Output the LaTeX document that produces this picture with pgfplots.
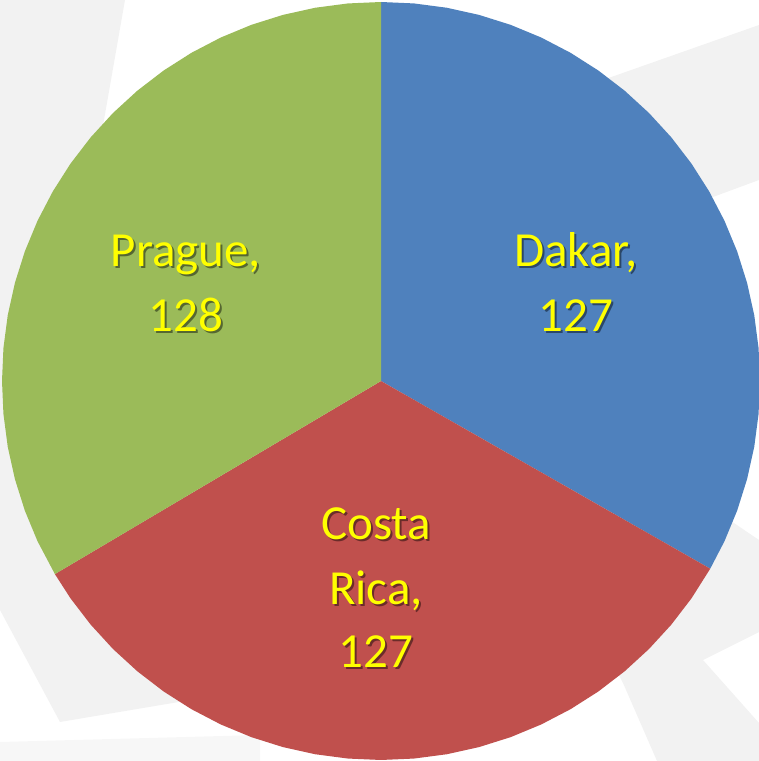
\documentclass[border=0pt]{standalone}
\usepackage{pgfplots}
\pgfplotsset{compat=1.18}
\usepackage{fontspec}
\setmainfont{Carlito}
\definecolor{cblue}{HTML}{4F81BD}
\definecolor{cred}{HTML}{C0504D}
\definecolor{cgreen}{HTML}{9BBB59}
\definecolor{bggrey}{HTML}{F2F2F2}
\definecolor{lblyellow}{HTML}{FFFF00}
% Data: Dakar 127, Costa Rica 127, Prague 128 (total 382)
\newcommand{\pielabel}[4]{%
  \node[anchor=base,inner sep=0pt,font=\fontsize{49}{58}\selectfont] at (axis cs:#1,#2)
   {\rlap{\kern2pt\raisebox{-2pt}{\color{#4!55!black}#3}}\textcolor{lblyellow}{#3}};}
\begin{document}
\begin{tikzpicture}
\begin{axis}[x=1pt,y=1pt,xmin=-381,xmax=378,ymin=-380,ymax=381,
  hide axis,scale only axis,clip=true]
% faint background decoration
\fill[bggrey] (axis cs:-381,381) -- (axis cs:-256,381) -- (axis cs:-291,181) -- (axis cs:-131,-309) -- (axis cs:-321,-341) -- (axis cs:-381,-229) -- cycle;
\fill[bggrey!60!white] (axis cs:-381,-361) -- (axis cs:-121,-354) -- (axis cs:-121,-380) -- (axis cs:-381,-380) -- cycle;
\fill[bggrey] (axis cs:219,300) -- (axis cs:378,356) -- (axis cs:378,201) -- (axis cs:332,184) -- (axis cs:219,181) -- cycle;
\fill[bggrey] (axis cs:319,-119) -- (axis cs:378,-159) -- (axis cs:378,-251) -- (axis cs:322,-279) -- (axis cs:378,-342) -- (axis cs:378,-380) -- (axis cs:276,-380) -- (axis cs:242,-302) -- (axis cs:179,-179) -- cycle;
% Dakar 127
\addplot[data cs=polar,fill=cblue,draw=none] coordinates {
(0,0) (90,379) (85,379) (80,379) (75,379) (70,379) (65,379) (60,379) (55,379) (50,379) (45,379) (40,379) (35,379) (30,379) (25,379) (20,379) (15,379) (10,379) (5,379) (0,379) (-5,379) (-10,379) (-15,379) (-20,379) (-25,379) (-29.686,379) (0,0)};
% Costa Rica 127
\addplot[data cs=polar,fill=cred,draw=none] coordinates {
(0,0) (-29.686,379) (-35,379) (-40,379) (-45,379) (-50,379) (-55,379) (-60,379) (-65,379) (-70,379) (-75,379) (-80,379) (-85,379) (-90,379) (-95,379) (-100,379) (-105,379) (-110,379) (-115,379) (-120,379) (-125,379) (-130,379) (-135,379) (-140,379) (-145,379) (-149.372,379) (0,0)};
% Prague 128
\addplot[data cs=polar,fill=cgreen,draw=none] coordinates {
(0,0) (-149.372,379) (-155,379) (-160,379) (-165,379) (-170,379) (-175,379) (-180,379) (-185,379) (-190,379) (-195,379) (-200,379) (-205,379) (-210,379) (-215,379) (-220,379) (-225,379) (-230,379) (-235,379) (-240,379) (-245,379) (-250,379) (-255,379) (-260,379) (-265,379) (-270,379) (0,0)};
\pielabel{195}{114}{Dakar,}{cblue}
\pielabel{195}{49}{127}{cblue}
\pielabel{-195}{114}{Prague,}{cgreen}
\pielabel{-195}{49}{128}{cgreen}
\pielabel{-5}{-159}{Costa}{cred}
\pielabel{-5}{-224}{Rica,}{cred}
\pielabel{-5}{-287}{127}{cred}
\end{axis}
\end{tikzpicture}
\end{document}
